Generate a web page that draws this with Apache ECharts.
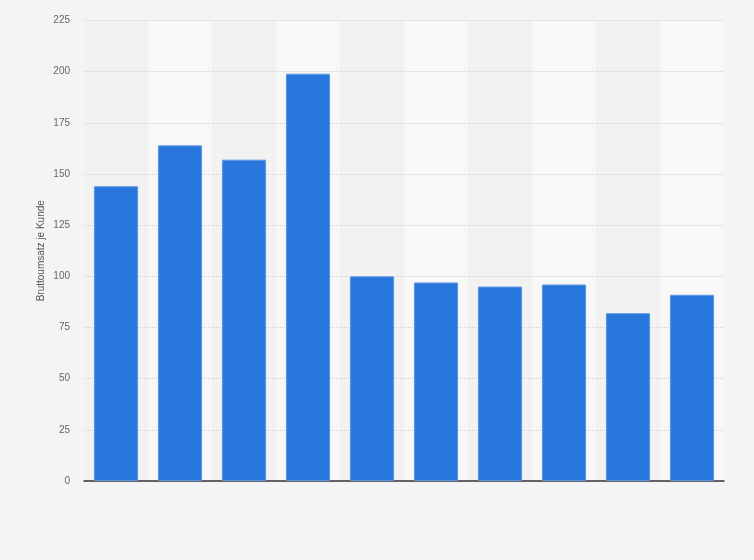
<!DOCTYPE html>
<html>
<head>
<meta charset="utf-8">
<script src="https://cdn.jsdelivr.net/npm/echarts@6/dist/echarts.min.js"></script>
<style>html,body{margin:0;padding:0;background:#f4f4f4;}#c{width:754px;height:560px;}</style>
</head>
<body>
<div id="c"></div>
<script>
const categories = ['1','2','3','4','5','6','7','8','9','10'];
const values = [144, 164, 157, 199, 100, 97, 95, 96, 82, 91];
const yTicks = { min: 0, max: 225, interval: 25 };
const yAxisName = 'Bruttoumsatz je Kunde';

const chart = echarts.init(document.getElementById('c'), null, { renderer: 'canvas' });
chart.setOption({
  backgroundColor: '#f4f4f4',
  animation: false,
  grid: { left: 84, right: 30, top: 20.5, bottom: 79 },
  xAxis: {
    type: 'category',
    data: categories,
    z: 0,
    axisLine: { show: true, lineStyle: { color: '#333', width: 1.5 } },
    axisTick: { show: false },
    axisLabel: { show: false },
    splitArea: { show: true, areaStyle: { color: ['#f2f2f2', '#f8f8f8'] } },
    splitLine: { show: false }
  },
  yAxis: {
    type: 'value',
    z: 1,
    min: yTicks.min, max: yTicks.max, interval: yTicks.interval,
    name: yAxisName,
    nameLocation: 'middle',
    nameRotate: 90,
    nameGap: 38,
    nameMoveOverlap: false,
    nameTextStyle: { color: '#555', fontSize: 10, fontFamily: 'Liberation Sans, Arial, sans-serif' },
    axisLine: { show: false },
    axisTick: { show: false },
    axisLabel: { color: '#666', fontSize: 10, margin: 14, fontFamily: 'Liberation Sans, Arial, sans-serif' },
    splitLine: { show: true, showMinLine: false, lineStyle: { color: '#d2d2d2', type: [1, 1], width: 1 } }
  },
  series: [{
    type: 'bar',
    z: 2,
    data: values,
    barCategoryGap: '31%',
    itemStyle: { color: '#2876dc', borderColor: '#5d98e6', borderWidth: 1 }
  }]
});
</script>
</body>
</html>
